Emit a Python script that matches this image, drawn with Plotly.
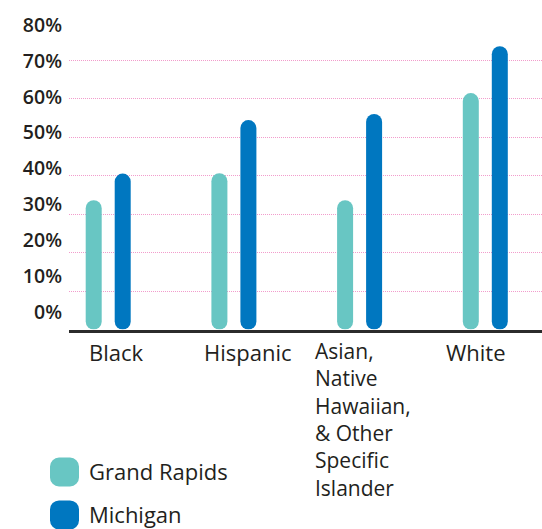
import plotly.graph_objects as go

# ---------------- data ----------------
CATEGORIES = ["Black", "Hispanic", "Asian, Native Hawaiian, & Other Specific Islander", "White"]
CATEGORY_LABELS = ["Black", "Hispanic", "Asian,<br>Native<br>Hawaiian,<br>& Other<br>Specific<br>Islander", "White"]
SERIES_NAMES = ["Grand Rapids", "Michigan"]
GRAND_RAPIDS = [33.6, 40.6, 33.6, 61.4]
MICHIGAN = [40.5, 54.4, 56.0, 73.6]
Y_TICKS = [0, 10, 20, 30, 40, 50, 60, 70, 80]
Y_TICK_LABELS = ["0%", "10%", "20%", "30%", "40%", "50%", "60%", "70%", "80%"]

# ---------------- style ----------------
COLORS = ["#68c6c3", "#0077c0"]
TEXT = "#231f20"
FONT = "Open Sans"
W, H = 542, 529
PL, PR, PT, PB = 69, 542, 21.5, 329.5          # plot area in px
LABEL_ANCHOR = ["center", "center", "left", "center"]
LABEL_NUDGE = [8, 14, -47, -9]
LABEL_SIZE = [22, 22, 21, 22]

fig = go.Figure()

unit = 125.7                                     # px per category
bw = 16 / unit
offsets = [-14.5 / unit - bw / 2, 14.5 / unit - bw / 2]

for i, (name, vals) in enumerate(zip(SERIES_NAMES, [GRAND_RAPIDS, MICHIGAN])):
    fig.add_trace(go.Bar(
        x=CATEGORIES, y=vals, base=[0] * len(vals),
        width=bw, offset=offsets[i], marker=dict(color=COLORS[i], cornerradius="50%", line=dict(width=0)),
        name=name, showlegend=False, hoverinfo="skip", xaxis="x", yaxis="y"))

# custom legend: large rounded-square swatches
y3_range = [-0.326, 1.744]
y3_px = 89 / (y3_range[1] - y3_range[0])
half = 14.5 / y3_px
legend_y = list(range(len(SERIES_NAMES)))[::-1]
for name, yy, col in zip(SERIES_NAMES, legend_y, COLORS):
    fig.add_trace(go.Bar(x=[0], y=[2 * half], base=[yy - half], width=29,
                         marker=dict(color=col, cornerradius=9, line=dict(width=0)),
                         showlegend=False, hoverinfo="skip", xaxis="x3", yaxis="y3"))
    fig.add_annotation(x=0, xref="x3", y=yy, yref="y3", xanchor="left", yanchor="middle",
                       xshift=22, yshift=1, text=name, showarrow=False,
                       font=dict(family=FONT, size=22, color=TEXT))

# dummy trace to activate label axis
fig.add_trace(go.Scatter(x=[CATEGORIES[0]], y=[0], mode="markers", marker=dict(opacity=0),
                         showlegend=False, hoverinfo="skip", xaxis="x", yaxis="y2"))

for cat, lab, anc, dx, fs in zip(CATEGORIES, CATEGORY_LABELS, LABEL_ANCHOR, LABEL_NUDGE, LABEL_SIZE):
    fig.add_annotation(x=cat, xref="x", y=0, yref="y", yanchor="top", xanchor=anc,
                       text=lab, showarrow=False, align="left", xshift=dx, yshift=-5,
                       font=dict(family=FONT, size=fs, color=TEXT))

x0 = (PL - 108.2) / unit
x1 = (PR - 108.2) / unit
ydom = [(H - PB) / H, (H - PT) / H]
k = 35.84 / 10
fig.update_layout(
    width=W, height=H, margin=dict(l=0, r=0, t=0, b=0, autoexpand=False),
    paper_bgcolor="white", plot_bgcolor="white", barmode="overlay",
    showlegend=False,
    xaxis=dict(domain=[PL / W, 1], range=[x0, x1], type="category",
               showline=True, linecolor="#2b2b2b", linewidth=2.5,
               showgrid=False, ticks="", showticklabels=False, zeroline=False),
    yaxis=dict(domain=ydom, range=[0, 80], tickvals=Y_TICKS, showgrid=True,
               gridcolor="#f29ccc", griddash="1px,1px", gridwidth=1,
               showticklabels=False, zeroline=False, showline=False, ticks=""),
    yaxis2=dict(overlaying="y", side="left", anchor="x",
                range=[-(PB - 311.7) / k, 80 + (25 - PT) / k],
                tickmode="array", tickvals=Y_TICKS, ticktext=Y_TICK_LABELS,
                showgrid=False, zeroline=False, ticks="", ticklabelstandoff=6,
                tickfont=dict(family=FONT, size=19.5, color=TEXT, weight=600)),
    xaxis3=dict(domain=[0, 0.5], range=[-64.5, 206.5], visible=False, anchor="y3"),
    yaxis3=dict(domain=[0, 89 / H], range=y3_range, visible=False, anchor="x3"),
)

fig.write_html("out.html", config={"displayModeBar": False},
               post_script="document.body.style.margin='0';")
